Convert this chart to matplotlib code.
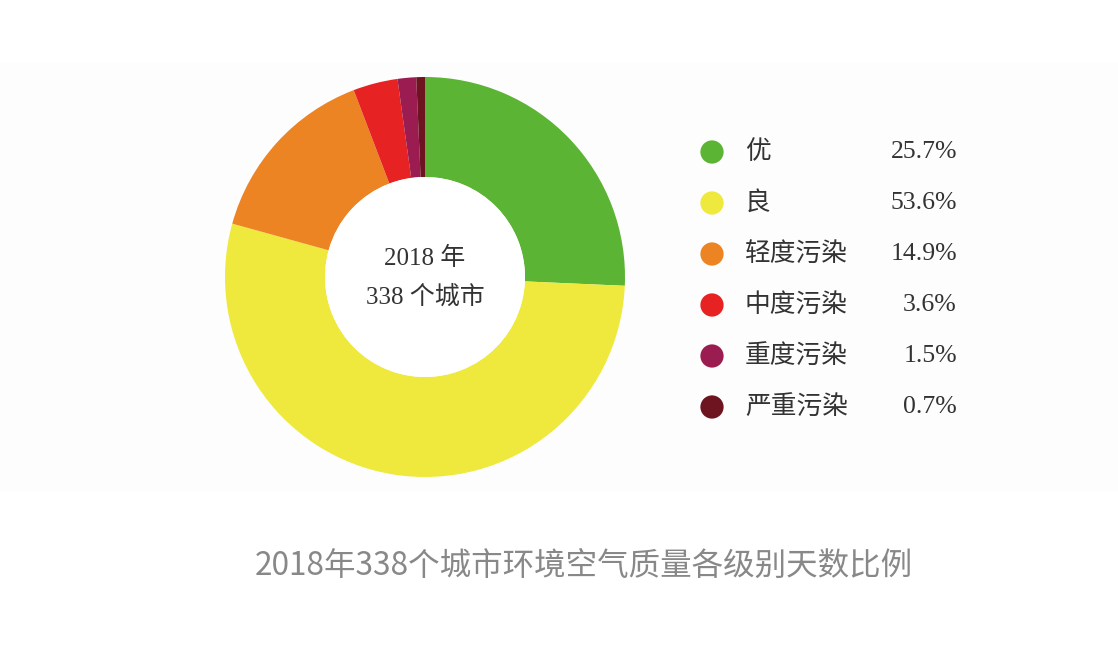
import matplotlib
matplotlib.use("Agg")
import matplotlib.pyplot as plt
from matplotlib.patches import Rectangle

# 数据
labels = ['优', '良', '轻度污染', '中度污染', '重度污染', '严重污染']
shares = [25.7, 53.6, 14.9, 3.6, 1.5, 0.7]
pct_text = ['25.7%', '53.6%', '14.9%', '3.6%', '1.5%', '0.7%']
colors = ['#5cb434', '#eee93c', '#ec8424', '#e62222', '#9a1c50', '#6e1420']
center_lines = ['2018 年', '338 个城市']
title = '2018年338个城市环境空气质量各级别天数比例'

W, H = 1118, 646
serif = ['Liberation Serif', 'Noto Sans CJK SC']
sans = ['Noto Sans CJK SC', 'DejaVu Sans']

fig = plt.figure(figsize=(W / 100, H / 100), dpi=100)
ax = fig.add_axes([0, 0, 1, 1])

# 很淡的面板背景
ax.add_patch(Rectangle((0, H - 492), W, 430, facecolor='#fdfdfd', edgecolor='none', zorder=0))

# 环形图
cx, cy, r = 425, H - 277, 200
ax.pie(shares, colors=colors, startangle=90, counterclock=False,
       center=(cx, cy), radius=r,
       wedgeprops=dict(width=r * 0.5, edgecolor='none', linewidth=0))
# 中心留白
ax.add_patch(plt.Circle((cx, cy), r * 0.5, facecolor='white', edgecolor='none', zorder=2))

ax.text(cx, H - 258, center_lines[0], ha='center', va='center',
        fontsize=18, color='#333333', family=serif, zorder=3)
ax.text(cx, H - 297, center_lines[1], ha='center', va='center',
        fontsize=18, color='#333333', family=serif, zorder=3)

# 图例
for i, (lab, pct, col) in enumerate(zip(labels, pct_text, colors)):
    y = H - (152 + 51 * i)
    ax.scatter([712], [y], s=280, color=col, edgecolors='none', zorder=3)
    ax.text(745, y, lab, ha='left', va='center', fontsize=18.5,
            color='#333333', family=serif)
    ax.text(957, y, pct, ha='right', va='center', fontsize=18.5,
            color='#333333', family=serif)

# 标题
ax.text(584, H - 566, title, ha='center', va='center', fontsize=22.7,
        color='#888888', family=sans)

ax.set_xlim(0, W)
ax.set_ylim(0, H)
ax.set_aspect('equal')
ax.axis('off')

fig.savefig('out.png', dpi=100, facecolor='white')
